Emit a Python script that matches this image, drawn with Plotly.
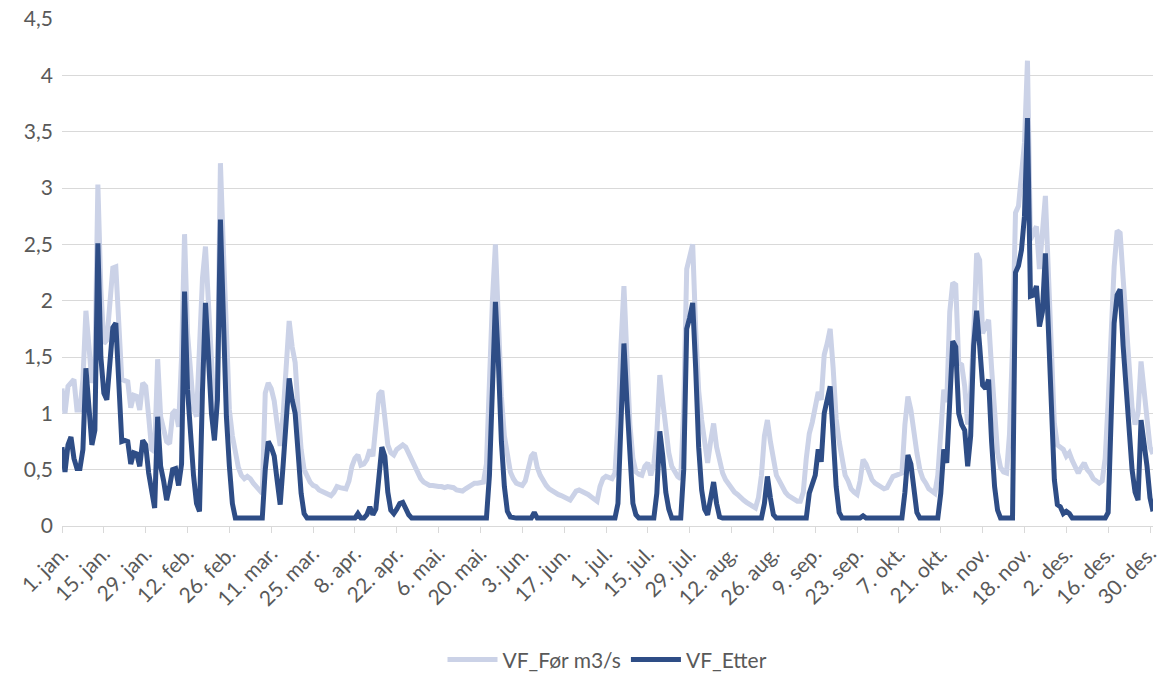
import pandas as pd
import plotly.graph_objects as go

# Daily discharge (m3/s) for 2024, one list per month
foer_jan = [1.22, 1.00, 1.24, 1.28, 1.30, 1.03, 1.03, 1.30, 1.91, 1.60, 1.27, 1.39, 3.03, 2.10, 1.62, 1.65,
            2.00, 2.29, 2.30, 1.70, 1.30, 1.29, 1.28, 1.05, 1.16, 1.15, 1.03, 1.27, 1.24, 0.97, 0.68]
foer_feb = [0.66, 1.48, 0.97, 0.85, 0.75, 0.73, 1.00, 1.03, 0.88, 1.50, 2.59, 1.71, 1.30, 1.05, 0.97, 1.50,
            2.20, 2.48, 1.95, 1.30, 0.97, 1.27, 3.22, 2.45, 1.56, 1.03, 0.80, 0.66, 0.52]
foer_mar = [0.45, 0.42, 0.44, 0.42, 0.38, 0.35, 0.31, 0.29, 1.18, 1.27, 1.22, 1.11, 0.90, 0.71, 1.00, 1.50,
            1.82, 1.59, 1.45, 1.03, 0.68, 0.50, 0.43, 0.39, 0.36, 0.35, 0.32, 0.31, 0.29, 0.28, 0.27]
foer_apr = [0.30, 0.35, 0.34, 0.33, 0.33, 0.40, 0.53, 0.60, 0.63, 0.54, 0.55, 0.59, 0.68, 0.62, 0.90, 1.17,
            1.20, 0.97, 0.72, 0.65, 0.63, 0.68, 0.70, 0.72, 0.70, 0.64, 0.59, 0.52, 0.47, 0.42]
foer_mai = [0.39, 0.37, 0.36, 0.36, 0.35, 0.35, 0.35, 0.34, 0.35, 0.35, 0.34, 0.32, 0.31, 0.31, 0.33, 0.35,
            0.37, 0.38, 0.38, 0.38, 0.39, 0.55, 1.35, 2.00, 2.50, 1.80, 1.15, 0.80, 0.65, 0.48, 0.42]
foer_jun = [0.38, 0.37, 0.36, 0.40, 0.52, 0.62, 0.65, 0.52, 0.45, 0.40, 0.36, 0.33, 0.31, 0.30, 0.28, 0.27,
            0.26, 0.25, 0.23, 0.27, 0.31, 0.32, 0.31, 0.30, 0.28, 0.26, 0.24, 0.22, 0.35, 0.42]
foer_jul = [0.44, 0.43, 0.42, 0.47, 0.90, 1.60, 2.13, 1.50, 0.90, 0.60, 0.48, 0.46, 0.45, 0.53, 0.56, 0.45,
            0.55, 0.82, 1.34, 1.10, 0.85, 0.65, 0.53, 0.48, 0.44, 0.42, 1.05, 2.28, 2.38, 2.50, 1.75]
foer_aug = [1.20, 0.94, 0.70, 0.56, 0.75, 0.91, 0.70, 0.58, 0.47, 0.41, 0.37, 0.34, 0.30, 0.28, 0.25, 0.23,
            0.21, 0.19, 0.18, 0.16, 0.25, 0.45, 0.80, 0.94, 0.75, 0.60, 0.45, 0.40, 0.34, 0.30, 0.27]
foer_sep = [0.25, 0.23, 0.22, 0.22, 0.30, 0.60, 0.82, 0.92, 1.05, 1.19, 1.12, 1.52, 1.62, 1.75, 1.40, 0.95,
            0.75, 0.59, 0.45, 0.40, 0.33, 0.30, 0.28, 0.40, 0.59, 0.55, 0.48, 0.41, 0.38, 0.36]
foer_okt = [0.34, 0.33, 0.34, 0.38, 0.44, 0.45, 0.46, 0.47, 0.90, 1.15, 1.03, 0.80, 0.65, 0.50, 0.42, 0.38,
            0.33, 0.31, 0.29, 0.45, 0.85, 1.21, 1.10, 1.90, 2.16, 2.14, 1.45, 1.43, 1.24, 0.90, 1.20]
foer_nov = [1.70, 2.42, 2.36, 1.71, 1.78, 1.83, 1.40, 0.95, 0.65, 0.52, 0.48, 0.47, 0.82, 1.60, 2.78, 2.84,
            3.10, 3.40, 4.13, 2.54, 2.60, 2.66, 2.28, 2.60, 2.93, 2.25, 1.51, 0.91, 0.72, 0.70]
foer_des = [0.68, 0.62, 0.65, 0.58, 0.53, 0.47, 0.52, 0.56, 0.50, 0.47, 0.42, 0.40, 0.38, 0.40, 0.60, 1.10,
            1.77, 2.30, 2.62, 2.60, 2.20, 1.77, 1.30, 1.05, 0.90, 1.00, 1.46, 1.20, 0.94, 0.70, 0.64]

etter_jan = [0.70, 0.48, 0.72, 0.79, 0.60, 0.51, 0.51, 0.68, 1.40, 1.00, 0.72, 0.85, 2.51, 1.50, 1.18, 1.12,
             1.45, 1.76, 1.80, 1.20, 0.75, 0.76, 0.75, 0.55, 0.65, 0.64, 0.53, 0.76, 0.72, 0.47, 0.29]
etter_feb = [0.16, 0.97, 0.53, 0.40, 0.23, 0.35, 0.50, 0.51, 0.36, 0.55, 2.08, 1.21, 0.80, 0.45, 0.20, 0.13,
             1.20, 1.98, 1.50, 1.00, 0.76, 1.12, 2.72, 1.86, 0.97, 0.53, 0.20, 0.07, 0.07]
etter_mar = [0.07, 0.07, 0.07, 0.07, 0.07, 0.07, 0.07, 0.07, 0.50, 0.75, 0.70, 0.62, 0.40, 0.19, 0.55, 0.90,
             1.31, 1.12, 1.00, 0.65, 0.29, 0.11, 0.07, 0.07, 0.07, 0.07, 0.07, 0.07, 0.07, 0.07, 0.07]
etter_apr = [0.07, 0.07, 0.07, 0.07, 0.07, 0.07, 0.07, 0.07, 0.11, 0.07, 0.07, 0.10, 0.17, 0.10, 0.15, 0.45,
             0.70, 0.62, 0.30, 0.14, 0.11, 0.15, 0.20, 0.21, 0.15, 0.10, 0.07, 0.07, 0.07, 0.07]
etter_mai = [0.07, 0.07, 0.07, 0.07, 0.07, 0.07, 0.07, 0.07, 0.07, 0.07, 0.07, 0.07, 0.07, 0.07, 0.07, 0.07,
             0.07, 0.07, 0.07, 0.07, 0.07, 0.07, 0.45, 1.24, 1.99, 1.45, 0.75, 0.35, 0.13, 0.08, 0.07]
etter_jun = [0.07, 0.07, 0.07, 0.07, 0.07, 0.07, 0.12, 0.07, 0.07, 0.07, 0.07, 0.07, 0.07, 0.07, 0.07, 0.07,
             0.07, 0.07, 0.07, 0.07, 0.07, 0.07, 0.07, 0.07, 0.07, 0.07, 0.07, 0.07, 0.07, 0.07]
etter_jul = [0.07, 0.07, 0.07, 0.07, 0.20, 0.95, 1.62, 1.10, 0.55, 0.20, 0.10, 0.07, 0.07, 0.07, 0.07, 0.07,
             0.07, 0.29, 0.84, 0.62, 0.30, 0.15, 0.07, 0.07, 0.07, 0.07, 0.50, 1.75, 1.85, 1.98, 1.40]
etter_aug = [0.70, 0.32, 0.15, 0.10, 0.25, 0.39, 0.20, 0.08, 0.07, 0.07, 0.07, 0.07, 0.07, 0.07, 0.07, 0.07,
             0.07, 0.07, 0.07, 0.07, 0.07, 0.07, 0.20, 0.44, 0.25, 0.10, 0.07, 0.07, 0.07, 0.07, 0.07]
etter_sep = [0.07, 0.07, 0.07, 0.07, 0.07, 0.07, 0.29, 0.36, 0.45, 0.68, 0.57, 1.00, 1.12, 1.24, 0.80, 0.35,
             0.12, 0.07, 0.07, 0.07, 0.07, 0.07, 0.07, 0.07, 0.09, 0.07, 0.07, 0.07, 0.07, 0.07]
etter_okt = [0.07, 0.07, 0.07, 0.07, 0.07, 0.07, 0.07, 0.07, 0.30, 0.63, 0.55, 0.30, 0.12, 0.07, 0.07, 0.07,
             0.07, 0.07, 0.07, 0.07, 0.29, 0.68, 0.56, 1.12, 1.64, 1.59, 1.00, 0.90, 0.85, 0.53, 0.80]
etter_nov = [1.60, 1.91, 1.60, 1.25, 1.22, 1.30, 0.75, 0.35, 0.14, 0.07, 0.07, 0.07, 0.07, 0.07, 2.25, 2.31,
             2.45, 2.75, 3.62, 2.04, 2.05, 2.13, 1.77, 1.90, 2.42, 1.80, 1.00, 0.41, 0.19, 0.17]
etter_des = [0.11, 0.13, 0.11, 0.07, 0.07, 0.07, 0.07, 0.07, 0.07, 0.07, 0.07, 0.07, 0.07, 0.07, 0.07, 0.12,
             1.10, 1.80, 2.05, 2.10, 1.60, 1.20, 0.88, 0.50, 0.30, 0.23, 0.94, 0.75, 0.53, 0.25, 0.13]

tick_labels = ["1. jan.", "15. jan.", "29. jan.", "12. feb.", "26. feb.", "11. mar.", "25. mar.",
               "8. apr.", "22. apr.", "6. mai.", "20. mai.", "3. jun.", "17. jun.", "1. jul.",
               "15. jul.", "29. jul.", "12. aug.", "26. aug.", "9. sep.", "23. sep.", "7. okt.",
               "21. okt.", "4. nov.", "18. nov.", "2. des.", "16. des.", "30. des."]

foer = (foer_jan + foer_feb + foer_mar + foer_apr + foer_mai + foer_jun
        + foer_jul + foer_aug + foer_sep + foer_okt + foer_nov + foer_des)
etter = (etter_jan + etter_feb + etter_mar + etter_apr + etter_mai + etter_jun
         + etter_jul + etter_aug + etter_sep + etter_okt + etter_nov + etter_des)

dates = pd.date_range("2024-01-01", periods=len(foer), freq="D")
tick_dates = pd.date_range("2024-01-01", periods=len(tick_labels), freq="14D")

FONT = "Lato, Carlito, Calibri, sans-serif"
GREY = "#595959"
GRID = "#d9d9d9"
FS = 21

fig = go.Figure()
fig.add_trace(go.Scatter(x=dates, y=foer, mode="lines", name="VF_Før m3/s",
                         line=dict(color="#cbd2e7", width=5)))
fig.add_trace(go.Scatter(x=dates, y=etter, mode="lines", name="VF_Etter",
                         line=dict(color="#2e4d86", width=5)))

fig.update_layout(
    width=1160, height=675,
    margin=dict(l=62, r=7, t=19, b=149, autoexpand=False),
    paper_bgcolor="white", plot_bgcolor="white",
    separators=", ",
    font=dict(family=FONT, size=FS, color=GREY),
    showlegend=True,
    legend=dict(orientation="h", x=0.5, xanchor="center", y=-0.264, yanchor="middle",
                font=dict(family=FONT, size=FS, color=GREY), itemwidth=50),
)
fig.update_xaxes(
    type="date", range=[dates[0], dates[-1]], automargin=False,
    tickmode="array", tickvals=tick_dates, ticktext=tick_labels,
    tickangle=-45, ticks="outside", ticklen=6, tickcolor=GRID,
    ticklabeloverflow="allow",
    showline=True, linecolor=GRID, linewidth=1,
    showgrid=False, zeroline=False,
    tickfont=dict(family=FONT, size=FS, color=GREY),
)
fig.update_yaxes(
    range=[0, 4.5], dtick=0.5, tick0=0, automargin=False,
    showgrid=True, gridcolor=GRID, gridwidth=1,
    zeroline=False, showline=False, ticks="",
    ticklabelstandoff=8,
    tickfont=dict(family=FONT, size=FS, color=GREY),
)

fig.write_html("out.html")
